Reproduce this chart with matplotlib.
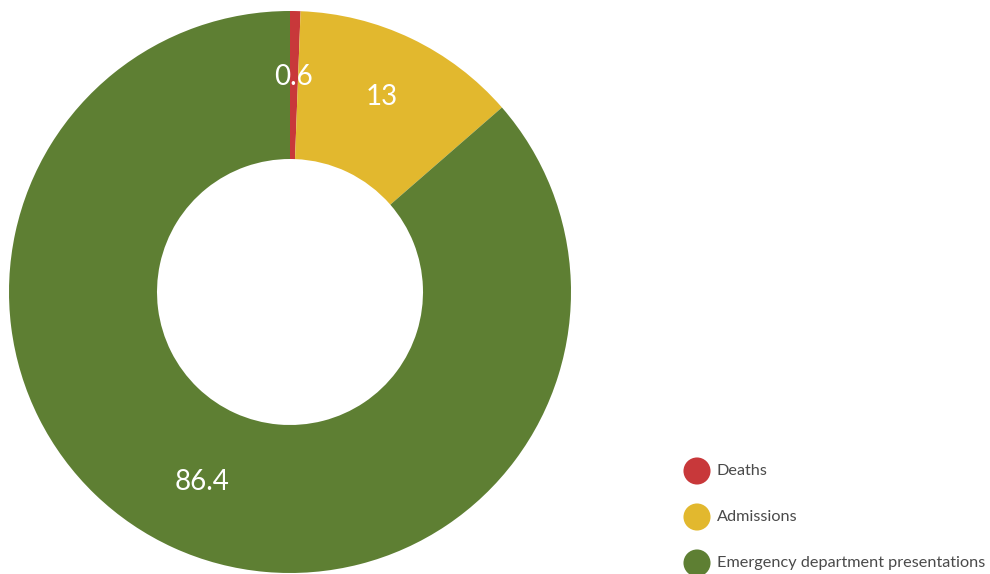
import numpy as np
import matplotlib
matplotlib.use("Agg")
import matplotlib.pyplot as plt

categories = ["Deaths", "Admissions", "Emergency department presentations"]
values = [0.6, 13, 86.4]
value_labels = ["0.6", "13", "86.4"]
colors = ["#C8383A", "#E2B82E", "#5E7F33"]

plt.rcParams["font.family"] = ["Lato", "DejaVu Sans"]

W, H = 990, 574
fig = plt.figure(figsize=(W / 100, H / 100), dpi=100)

cx, cy, r = 290, 292, 281
ax = fig.add_axes([(cx - r) / W, (H - cy - r) / H, 2 * r / W, 2 * r / H])
ring = 1 - 133 / 281
wedges, _ = ax.pie(values, colors=colors, startangle=90, counterclock=False,
                   radius=1.0, wedgeprops=dict(width=ring, linewidth=0))
ax.set_xlim(-1, 1)
ax.set_ylim(-1, 1)
ax.set_aspect("equal")
ax.axis("off")

# value labels in the middle of the ring
lab_r = 0.755
for w, lab in zip(wedges, value_labels):
    ang = np.deg2rad((w.theta1 + w.theta2) / 2)
    ax.text(lab_r * np.cos(ang), lab_r * np.sin(ang) + 0.012, lab, color="white",
            fontsize=20, ha="center", va="center")

# legend, with the text size chosen so the longest entry fits the right margin
lax = fig.add_axes([0, 0, 1, 1])
lax.set_xlim(0, W)
lax.set_ylim(H, 0)
lax.axis("off")
renderer = fig.canvas.get_renderer()
probe = lax.text(0, 0, max(categories, key=len), fontsize=13)
width_px = probe.get_window_extent(renderer).width
probe.remove()
legend_fs = 13 * 268 / width_px

for i, (name, c) in enumerate(zip(categories, colors)):
    y = 471 + i * 46
    lax.scatter([697], [y], s=380, color=c, edgecolors="none")
    lax.text(717, y, name, fontsize=legend_fs, color="#4a4a4a", va="center", ha="left")

fig.savefig("out.png", dpi=100)
